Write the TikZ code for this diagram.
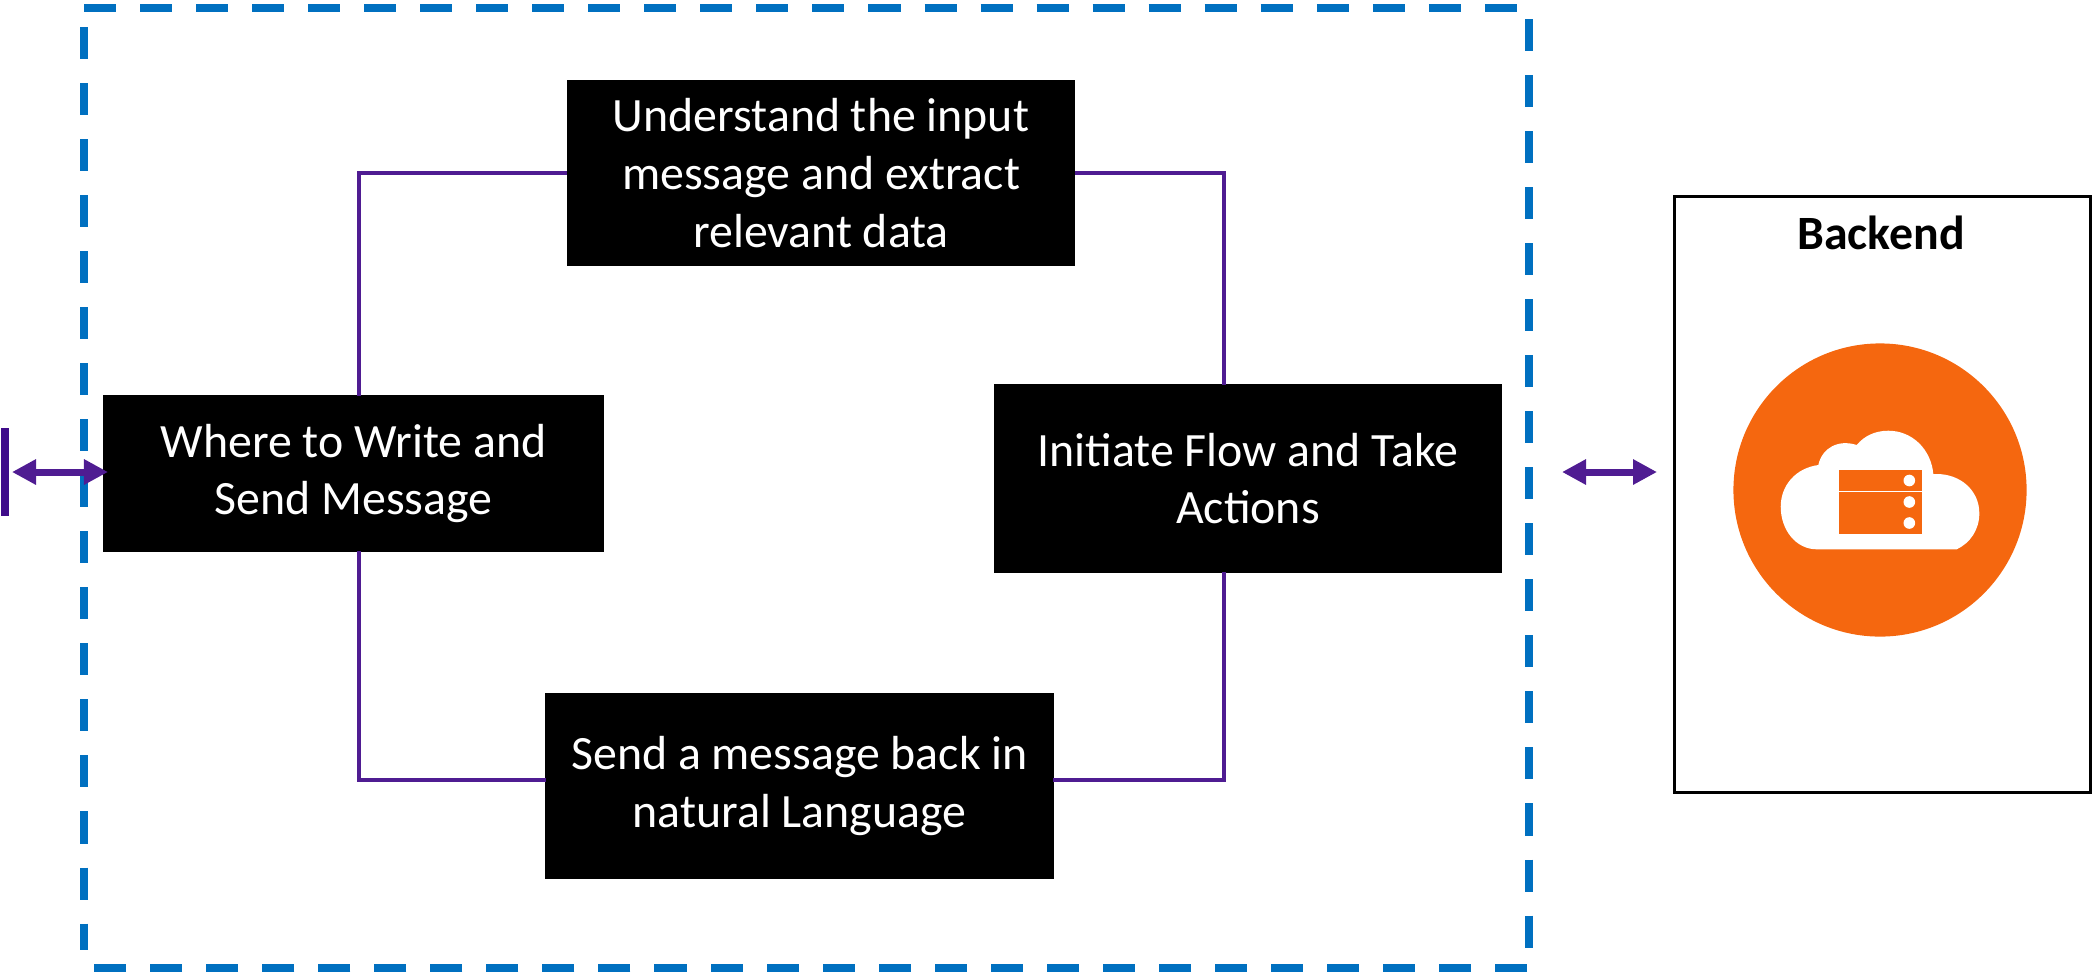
\documentclass[tikz,border=0pt]{standalone}
\usepackage{fontspec}
\setmainfont{Carlito}
\usetikzlibrary{arrows.meta}
\definecolor{flowpurple}{HTML}{4F1C92}
\definecolor{barpurple}{HTML}{3F0C8A}
\definecolor{frameblue}{HTML}{0070C0}
\definecolor{cloudorange}{HTML}{F5670F}
\begin{document}
\begin{tikzpicture}[
    x=0.01cm,y=-0.01cm,
    stepbox/.style={draw=black,fill=black,text=white,align=center,inner sep=0pt,font=\fontsize{13.6}{16.4}\selectfont},
    flowline/.style={draw=flowpurple,line width=0.04cm},
    linkarrow/.style={{Triangle[length=0.24cm,width=0.24cm]}-{Triangle[length=0.24cm,width=0.24cm]},draw=flowpurple,fill=flowpurple,line width=0.07cm},
    framedash/.style={draw=frameblue,line width=0.08cm,dash pattern=on 0.32cm off 0.24cm}
]
    \useasboundingbox (0,0) rectangle (2095,972);

    % Dashed frame
    \coordinate (ftl) at (84,8);
    \coordinate (ftr) at (1529,8);
    \coordinate (frt) at (1529,19);
    \coordinate (frb) at (1529,950);
    \coordinate (fbr) at (1527,968);
    \coordinate (fbl) at (84,968);
    \coordinate (flt) at (84,27);
    \coordinate (flb) at (84,950);
    \draw[framedash] (ftl) -- (ftr);
    \draw[framedash] (frt) -- (frb);
    \draw[framedash] (fbr) -- (fbl);
    \draw[framedash] (flt) -- (flb);

    % Steps
    \node[stepbox,minimum width=5.06cm,minimum height=1.84cm] (understand) at (821,173) {Understand the input\\message and extract\\relevant data};
    \node[stepbox,minimum width=4.99cm,minimum height=1.55cm] (where) at (353.5,473.5) {Where to Write and\\Send Message};
    \node[stepbox,minimum width=5.07cm,minimum height=1.87cm] (initiate) at (1248,478.5) {Initiate Flow and Take\\Actions};
    \node[stepbox,minimum width=5.07cm,minimum height=1.84cm] (reply) at (799.5,786) {Send a message back in\\natural Language};

    % Loop
    \coordinate (wn) at (359,396);
    \coordinate (ws) at (359,551);
    \coordinate (in) at (1224,385);
    \coordinate (is) at (1224,572);
    \coordinate (re) at (1053,780);
    \coordinate (rw) at (546,780);
    \draw[flowline] (wn) |- (understand.west);
    \draw[flowline] (understand.east) -| (in);
    \draw[flowline] (is) |- (re);
    \draw[flowline] (rw) -| (ws);

    % Backend
    \node[draw=black,line width=0.03cm,minimum width=4.16cm,minimum height=5.96cm,anchor=north west] (backend) at (1673,195) {};
    \node[font=\fontsize{13.6}{16}\selectfont\bfseries] (title) at (1881,233) {Backend};
    \node[circle,fill=cloudorange,minimum size=2.93cm,inner sep=0pt] (disc) at (1880,490) {};
    \fill[white] (1816.7,549.3) -- (1956.7,549.3)
        .. controls (1970,543) and (1979.3,530) .. (1979.3,513.3)
        .. controls (1979.3,490) and (1960,474) .. (1936.7,474)
        -- (1933.3,474)
        .. controls (1931,449) and (1912,430.7) .. (1888.3,430.7)
        .. controls (1875,430.7) and (1864,436) .. (1856.7,445)
        .. controls (1838,439) and (1822,448) .. (1818.3,465)
        .. controls (1796,468) and (1780.7,485) .. (1780.7,506.7)
        .. controls (1780.7,530) and (1796,549.3) .. (1816.7,549.3) -- cycle;
    \foreach \rowy in {470,491.5,512.5} {
        \fill[cloudorange] (1839,\rowy) rectangle (1921.5,\rowy+21);
        \fill[white] (1909.3,\rowy+10.5) circle (0.058cm);
    }

    % Links
    \node[fill=barpurple,minimum width=0.08cm,minimum height=0.88cm,inner sep=0pt,anchor=west] (bar) at (0,472) {};
    \coordinate (linkl) at (12,472);
    \coordinate (linkr) at (108,472);
    \coordinate (backl) at (1562,472);
    \coordinate (backr) at (1657,472);
    \draw[linkarrow] (linkl) -- (linkr);
    \draw[linkarrow] (backl) -- (backr);
\end{tikzpicture}
\end{document}
